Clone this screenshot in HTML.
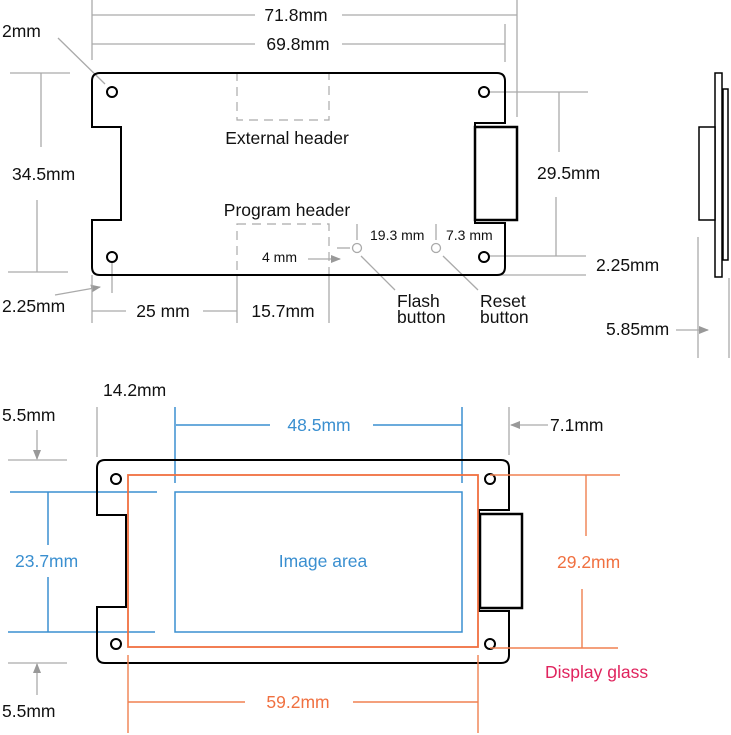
<!DOCTYPE html>
<html><head><meta charset="utf-8"><style>
html,body{margin:0;padding:0;background:#fff;}
svg{display:block;font-family:"Liberation Sans",sans-serif;}
</style></head><body>
<svg width="731" height="735" viewBox="0 0 731 735" xmlns="http://www.w3.org/2000/svg">
<defs>
<marker id="ag" markerWidth="10" markerHeight="8" refX="9" refY="4" orient="auto" markerUnits="userSpaceOnUse"><path d="M0,0 L10,4 L0,8 z" fill="#999"/></marker>
</defs>
<g stroke="#aaa" stroke-width="1.3" fill="none">
<line x1="92" y1="0" x2="92" y2="60"/><line x1="517" y1="0" x2="517" y2="117"/><line x1="505" y1="24" x2="505" y2="62"/>
<line x1="92" y1="15" x2="255" y2="15"/><line x1="342" y1="15" x2="517" y2="15"/>
<line x1="92" y1="44" x2="255" y2="44"/><line x1="342" y1="44" x2="505" y2="44"/>
<line x1="58" y1="38" x2="105" y2="84"/>
<line x1="10" y1="73" x2="70" y2="73"/><line x1="8" y1="272" x2="68" y2="272"/>
<line x1="41" y1="73" x2="41" y2="147"/><line x1="37" y1="200" x2="37" y2="272"/>
<line x1="55" y1="295" x2="100" y2="287" marker-end="url(#ag)"/>
<line x1="112" y1="262" x2="112" y2="293"/>
<line x1="92" y1="275" x2="92" y2="323"/><line x1="237" y1="275" x2="237" y2="323"/><line x1="329" y1="275" x2="329" y2="323"/>
<line x1="92" y1="311" x2="126" y2="311"/><line x1="203" y1="311" x2="237" y2="311"/>
<line x1="308" y1="259" x2="340" y2="259" marker-end="url(#ag)"/>
<line x1="337" y1="248" x2="350" y2="248"/>
<line x1="357" y1="224" x2="357" y2="240"/><line x1="436" y1="224" x2="436" y2="240"/>
<line x1="361" y1="256" x2="395" y2="290"/><line x1="443" y1="256" x2="478" y2="290"/>
<line x1="489" y1="92" x2="588" y2="92"/><line x1="559" y1="92" x2="559" y2="152"/>
<line x1="556" y1="197" x2="556" y2="256"/><line x1="489" y1="256" x2="586" y2="256"/>
<line x1="495" y1="275" x2="586" y2="275"/>
<line x1="676" y1="330" x2="708" y2="330" marker-end="url(#ag)"/>
<line x1="698" y1="237" x2="698" y2="358"/><line x1="729" y1="278" x2="729" y2="358"/>
<line x1="97" y1="407" x2="97" y2="457"/>
<line x1="37" y1="430" x2="37" y2="459" marker-end="url(#ag)"/>
<line x1="8" y1="460" x2="67" y2="460"/><line x1="8" y1="663" x2="67" y2="663"/>
<line x1="37" y1="695" x2="37" y2="664" marker-end="url(#ag)"/>
<line x1="509" y1="407" x2="509" y2="455"/>
<line x1="548" y1="425" x2="511" y2="425" marker-end="url(#ag)"/>
</g>
<g stroke="#aaa" stroke-width="1.2" fill="none" stroke-dasharray="9,6">
<rect x="237" y="73" width="92" height="47"/>
<rect x="237" y="224" width="92" height="51"/>
</g>
<circle cx="357" cy="248" r="4.5" fill="none" stroke="#aaa" stroke-width="1.3"/>
<circle cx="436" cy="248" r="4.5" fill="none" stroke="#aaa" stroke-width="1.3"/>
<g stroke="#000" stroke-width="2" fill="none">
<path d="M100,73 H497 Q505,73 505,81 V123 H475 V223 H505 V267 Q505,275 497,275 H100 Q92,275 92,267 V220 H121 V127 H92 V81 Q92,73 100,73 Z"/>
<rect x="475" y="127" width="42" height="93" stroke-width="2.5"/>
<circle cx="112" cy="92" r="5"/><circle cx="112" cy="257" r="5"/><circle cx="484" cy="92" r="5"/><circle cx="484" cy="257" r="5"/>
</g>
<g stroke="#000" stroke-width="1.5" fill="#fff">
<rect x="715" y="73" width="7" height="204"/>
<rect x="723" y="89" width="5" height="171"/>
<rect x="699" y="127" width="16" height="93"/>
</g>
<g stroke="#3a8fd0" stroke-width="1.5" fill="none">
<rect x="175" y="492" width="287" height="140"/>
<line x1="10" y1="492" x2="157" y2="492"/><line x1="8" y1="632" x2="155" y2="632"/>
<line x1="48" y1="492" x2="48" y2="545"/><line x1="48" y1="577" x2="48" y2="632"/>
<line x1="175" y1="407" x2="175" y2="483"/><line x1="462" y1="407" x2="462" y2="483"/>
<line x1="176" y1="425" x2="270" y2="425"/><line x1="373" y1="425" x2="462" y2="425"/>
</g>
<g stroke="#000" stroke-width="2" fill="none">
<path d="M105,460 H501 Q509,460 509,468 V510 H479 V611 H509 V655 Q509,663 501,663 H105 Q97,663 97,655 V607 H126 V515 H97 V468 Q97,460 105,460 Z"/>
<rect x="480" y="514" width="42" height="94" stroke-width="2.5"/>
<circle cx="116" cy="479" r="5"/><circle cx="116" cy="644" r="5"/><circle cx="490" cy="479" r="5"/><circle cx="490" cy="644" r="5"/>
</g>
<g stroke="#f07040" stroke-width="1.8" fill="none">
<rect x="128" y="475" width="350" height="172"/>
</g>
<g stroke="#f08050" stroke-width="1.4" fill="none">
<line x1="490" y1="475" x2="620" y2="475"/><line x1="490" y1="648" x2="618" y2="648"/>
<line x1="586" y1="475" x2="586" y2="536"/><line x1="582" y1="589" x2="582" y2="648"/>
<line x1="128" y1="655" x2="128" y2="733"/><line x1="478" y1="655" x2="478" y2="733"/>
<line x1="128" y1="702" x2="245" y2="702"/><line x1="353" y1="702" x2="478" y2="702"/>
</g>
<g font-size="17.5" fill="#111">
<text x="296" y="21" text-anchor="middle">71.8mm</text>
<text x="298" y="50" text-anchor="middle">69.8mm</text>
<text x="2" y="37">2mm</text>
<text x="12" y="180">34.5mm</text>
<text x="2" y="312">2.25mm</text>
<text x="163" y="317" text-anchor="middle">25 mm</text>
<text x="283" y="317" text-anchor="middle">15.7mm</text>
<text x="287" y="144" text-anchor="middle">External header</text>
<text x="287" y="216" text-anchor="middle">Program header</text>
<text x="262" y="262" font-size="14">4 mm</text>
<text x="370" y="240" font-size="14">19.3 mm</text>
<text x="446" y="240" font-size="14">7.3 mm</text>
<text x="397" y="307">Flash</text><text x="397" y="323">button</text>
<text x="480" y="307">Reset</text><text x="480" y="323">button</text>
<text x="537" y="179">29.5mm</text>
<text x="596" y="271">2.25mm</text>
<text x="606" y="335">5.85mm</text>
<text x="103" y="396">14.2mm</text>
<text x="2" y="421">5.5mm</text>
<text x="2" y="717">5.5mm</text>
<text x="550" y="431">7.1mm</text>
</g>
<g font-size="17.5" fill="#3a8fd0">
<text x="15" y="567">23.7mm</text>
<text x="319" y="431" text-anchor="middle">48.5mm</text>
<text x="323" y="567" text-anchor="middle">Image area</text>
</g>
<g font-size="17.5" fill="#f07040">
<text x="557" y="568">29.2mm</text>
<text x="298" y="708" text-anchor="middle">59.2mm</text>
</g>
<text x="545" y="678" font-size="17.5" fill="#e0245e">Display glass</text>
</svg>
</body></html>
